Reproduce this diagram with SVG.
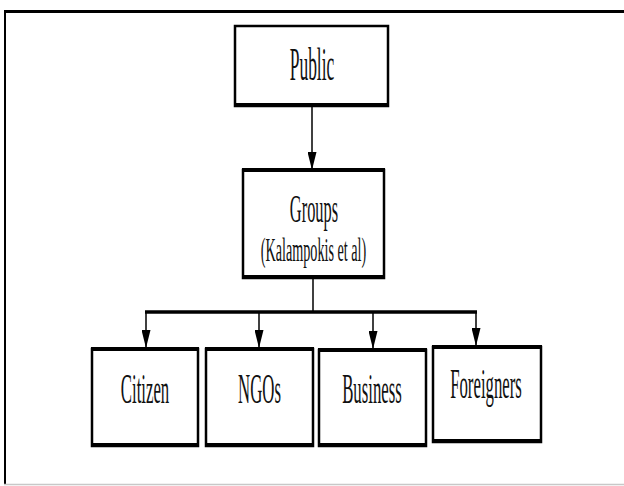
<svg xmlns="http://www.w3.org/2000/svg" width="624" height="486" viewBox="0 0 624 486">
  <style>
    .box { fill: #ffffff; stroke: #000000; stroke-width: 2.5; }
    .edge { stroke: #000000; stroke-width: 4; }
    .lbl { font-family: "Liberation Serif", "Times New Roman", serif; fill: #111111; text-anchor: middle; }
    .wire { stroke: #000000; stroke-width: 1.5; fill: none; }
    .bus { stroke: #000000; stroke-width: 3.5; fill: none; }
  </style>
  <defs>
    <!-- long narrow filled arrowhead, tip on the line end -->
    <marker id="head" markerUnits="userSpaceOnUse" markerWidth="18" markerHeight="9" refX="17" refY="4.5" orient="auto" viewBox="0 0 18 9">
      <path d="M0,0 L18,4.5 L0,9 Z" fill="#000000"/>
    </marker>
  </defs>

  <rect width="624" height="486" fill="#ffffff"/>

  <!-- outer frame: heavy top rule, left rule, faint bottom rule -->
  <g id="frame">
    <line x1="4" y1="11.5" x2="624" y2="11.5" stroke="#000" stroke-width="3"/>
    <line x1="5" y1="10" x2="5" y2="485" stroke="#000" stroke-width="2"/>
    <line x1="4" y1="484.5" x2="624" y2="484.5" stroke="#c8c8c8" stroke-width="1.5"/>
  </g>

  <!-- connectors -->
  <g id="connectors">
    <line class="wire" x1="312" y1="106" x2="312" y2="169" marker-end="url(#head)"/>
    <line class="wire" x1="313" y1="278" x2="313" y2="312"/>
    <line class="bus" x1="145" y1="312" x2="477" y2="312"/>
    <line class="wire" x1="146" y1="312" x2="146" y2="347" marker-end="url(#head)"/>
    <line class="wire" x1="259" y1="312" x2="259" y2="347" marker-end="url(#head)"/>
    <line class="wire" x1="373" y1="312" x2="373" y2="348" marker-end="url(#head)"/>
    <line class="wire" x1="476" y1="312" x2="476" y2="345" marker-end="url(#head)"/>
  </g>

  <g id="public">
    <rect class="box" x="235" y="26" width="153" height="80"/>
    <line class="edge" x1="234" y1="105" x2="389" y2="105"/>
    <text class="lbl" font-size="46" transform="translate(312,80) scale(0.38,1)">Public</text>
  </g>

  <g id="groups">
    <rect class="box" x="243" y="170" width="141" height="108"/>
    <line class="edge" x1="242" y1="170" x2="385" y2="170"/>
    <line class="edge" x1="242" y1="277" x2="385" y2="277"/>
    <text class="lbl" font-size="40" transform="translate(314,222) scale(0.41,1)">Groups</text>
    <text class="lbl" font-size="33" transform="translate(313.5,261) scale(0.43,1)">(Kalampokis et al)</text>
  </g>

  <g id="citizen">
    <rect class="box" x="92" y="349" width="106" height="97"/>
    <line class="edge" x1="91" y1="349" x2="199" y2="349"/>
    <line class="edge" x1="91" y1="445" x2="199" y2="445"/>
    <text class="lbl" font-size="43" transform="translate(145,403) scale(0.39,1)">Citizen</text>
  </g>

  <g id="ngos">
    <rect class="box" x="206" y="349" width="107" height="97"/>
    <line class="edge" x1="205" y1="349" x2="314" y2="349"/>
    <line class="edge" x1="205" y1="445" x2="314" y2="445"/>
    <text class="lbl" font-size="43" transform="translate(259.5,403) scale(0.39,1)">NGOs</text>
  </g>

  <g id="business">
    <rect class="box" x="319" y="350" width="107" height="96"/>
    <line class="edge" x1="318" y1="350" x2="427" y2="350"/>
    <line class="edge" x1="318" y1="445" x2="427" y2="445"/>
    <text class="lbl" font-size="43" transform="translate(372,403) scale(0.39,1)">Business</text>
  </g>

  <g id="foreigners">
    <rect class="box" x="433" y="347" width="108" height="95"/>
    <line class="edge" x1="432" y1="347" x2="542" y2="347"/>
    <line class="edge" x1="432" y1="441" x2="542" y2="441"/>
    <text class="lbl" font-size="43" transform="translate(486,398) scale(0.39,1)">Foreigners</text>
  </g>
</svg>
